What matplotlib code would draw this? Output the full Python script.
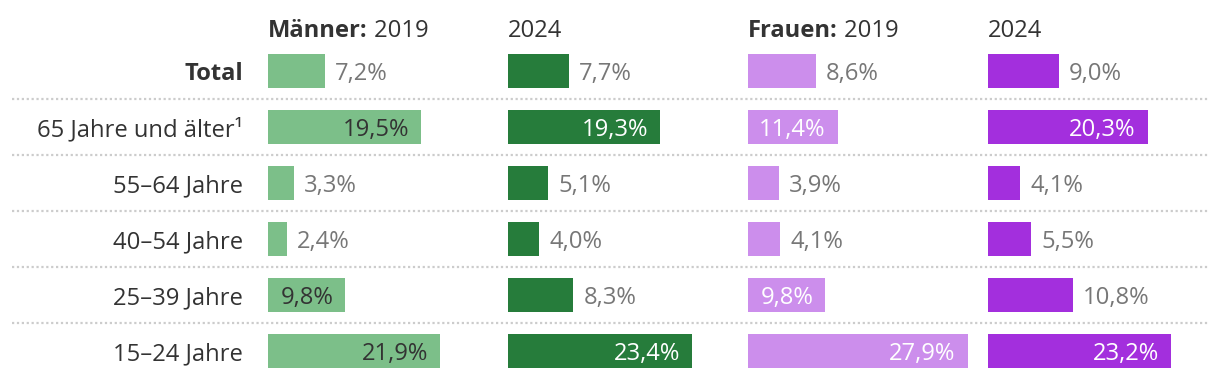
import matplotlib
matplotlib.use("Agg")
import matplotlib.pyplot as plt

plt.rcParams['font.family'] = ['Open Sans', 'DejaVu Sans']

rows = ["Total", "65 Jahre und älter¹", "55–64 Jahre", "40–54 Jahre", "25–39 Jahre", "15–24 Jahre"]
maenner_2019 = [7.2, 19.5, 3.3, 2.4, 9.8, 21.9]
maenner_2024 = [7.7, 19.3, 5.1, 4.0, 8.3, 23.4]
frauen_2019 = [8.6, 11.4, 3.9, 4.1, 9.8, 27.9]
frauen_2024 = [9.0, 20.3, 4.1, 5.5, 10.8, 23.2]

series = [maenner_2019, maenner_2024, frauen_2019, frauen_2024]
headers = [("Männer:", " 2019"), ("", "2024"), ("Frauen:", " 2019"), ("", "2024")]
colors = ["#7cbf89", "#267c3b", "#cc8eec", "#a32fdd"]
inside_colors = ["#333333", "white", "white", "white"]

DARK = "#333333"
GREY = "#777777"
FS = 17.1

W, H = 1220, 378
fig = plt.figure(figsize=(W / 100, H / 100), dpi=100)
fig.patch.set_facecolor("white")

top_px, bot_px = 43, 379
bottom = (H - bot_px) / H
height = (bot_px - top_px) / H
ylim = (len(rows) - 0.5, -0.5)

# dotted separators across the whole width
ax_bg = fig.add_axes([0, bottom, 1, height], zorder=-1)
ax_bg.set_xlim(0, W)
ax_bg.set_ylim(*ylim)
ax_bg.axis("off")
ax_bg.hlines([i + 0.5 for i in range(len(rows) - 1)], 12, 1208,
             colors="#cccccc", linestyles=(0, (1, 1.2)), linewidth=1.6)

px_per_unit = 7.87
xmax = 30
renderer = fig.canvas.get_renderer()

for k, vals in enumerate(series):
    left_px = 268 + 240 * k
    ax = fig.add_axes([left_px / W, bottom, xmax * px_per_unit / W, height])
    ax.set_xlim(0, xmax)
    ax.set_ylim(*ylim)
    ax.barh(range(len(rows)), vals, height=34 / 56, color=colors[k])
    for s in ax.spines.values():
        s.set_visible(False)
    ax.set_xticks([])
    if k == 0:
        ax.set_yticks(range(len(rows)))
        ax.set_yticklabels(rows, fontsize=FS, color=DARK)
        ax.tick_params(axis="y", length=0, pad=18)
        ax.get_yticklabels()[0].set_fontweight("bold")
    else:
        ax.set_yticks([])
    ax.patch.set_alpha(0)

    # header
    bold, normal = headers[k]
    if bold:
        t = ax.annotate(bold, xy=(0, -0.5), xytext=(0, 4.5), textcoords="offset points",
                        ha="left", va="baseline", fontsize=FS, fontweight="bold", color=DARK,
                        annotation_clip=False)
        ax.annotate(normal, xy=(1, 0), xycoords=t, ha="left", va="bottom",
                    fontsize=FS, color=DARK, annotation_clip=False)
    else:
        ax.annotate(normal, xy=(0, -0.5), xytext=(0, 4.5), textcoords="offset points",
                    ha="left", va="baseline", fontsize=FS, color=DARK, annotation_clip=False)

    # value labels
    for i, v in enumerate(vals):
        label = f"{v:.1f}".replace(".", ",") + "%"
        t = ax.text(0, 0, label, fontsize=FS)
        tw = t.get_window_extent(renderer).width
        t.remove()
        if v * px_per_unit - tw >= 21:
            ax.annotate(label, xy=(v, i), xytext=(-8.6, 0), textcoords="offset points",
                        ha="right", va="center_baseline", fontsize=FS, color=inside_colors[k])
        else:
            ax.annotate(label, xy=(v, i), xytext=(7.2, 0), textcoords="offset points",
                        ha="left", va="center_baseline", fontsize=FS, color=GREY)

fig.savefig("out.png", dpi=100, facecolor="white")
